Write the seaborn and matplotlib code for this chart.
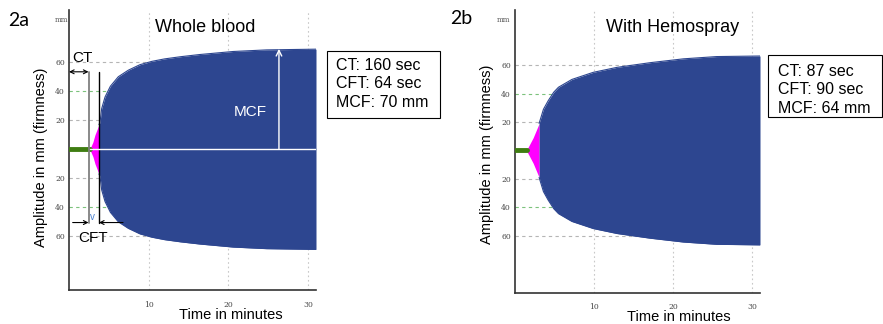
import matplotlib
matplotlib.use("Agg")
import matplotlib.pyplot as plt
import seaborn as sns
import numpy as np
import pandas as pd
from matplotlib.patches import Rectangle

# ---------------- data ----------------
# Panel 2a: whole blood - clot amplitude envelope (mm) over time (min)
time_a = [2.67, 3.0, 3.26, 3.76, 3.89, 4.1, 4.52, 5.2, 6.19, 7.44, 8.9, 10.4, 12.0, 14.0,
          16.4, 20.6, 24.8, 31.0]
amp_a = [0.8, 5.0, 10.0, 17.0, 18.5, 28.0, 36.0, 43.5, 50.0, 54.5, 58.3, 60.6, 62.3, 63.8,
         65.3, 67.4, 68.5, 69.0]
ct_a = 2.67          # clotting time, minutes
pink_end_a = 3.76    # end of the clot-formation (CFT) phase

# Panel 2b: with Hemospray
time_b = [1.52, 2.3, 3.05, 3.6, 4.2, 4.9, 5.5, 7.2, 9.9, 12.9, 17.1, 21.3, 25.5, 31.0]
amp_b = [0.8, 9.0, 19.0, 29.0, 35.0, 41.0, 44.5, 50.0, 55.0, 58.5, 61.8, 64.5, 66.1, 66.5]
ct_b = 1.52
pink_end_b = 3.05

x_ticks = [10, 20, 30]
x_ticklabels = ["10", "20", "30"]
y_ticks = [-60, -40, -20, 20, 40, 60]
y_ticklabels = ["60", "40", "20", "20", "40", "60"]
panel_titles = ["Whole blood", "With Hemospray"]
panel_tags = ["2a", "2b"]
box_a = ["CT: 160 sec", "CFT: 64 sec", "MCF: 70 mm"]
box_b = ["CT: 87 sec", "CFT: 90 sec", "MCF: 64 mm"]
x_label = "Time in minutes"
y_label = "Amplitude in mm (firmness)"

# ---------------- style ----------------
BLUE = "#2d4690"
PINK = "#ff00ff"
GREEN = "#3f7d12"

sns.set_theme(style="white")
plt.rcParams['font.family'] = ['Liberation Sans', 'DejaVu Sans']
plt.rcParams['text.color'] = 'black'

W, H = 883, 324
fig = plt.figure(figsize=(W / 100, H / 100), dpi=100)


def fx(x):
    return x / W


def fy(y):
    return 1 - y / H


def make_ax(left, top, right, bottom):
    return fig.add_axes([fx(left), fy(bottom), (right - left) / W, (bottom - top) / H])


def draw_panel(ax, t, a, ct, pink_end, ylim, xpad):
    t = np.asarray(t, dtype=float)
    a = np.asarray(a, dtype=float)
    ax.set_xlim(0, 31)
    ax.set_ylim(*ylim)
    # grid
    for yv in [-60, -20, 20, 60]:
        ax.axhline(yv, color="#b5b5b5", lw=0.8, ls=(0, (3, 3)), zorder=1)
    for yv in [-40, 40]:
        ax.axhline(yv, color="#7cc27c", lw=0.8, ls=(0, (3, 3)), zorder=1)
    for xv in x_ticks:
        ax.axvline(xv, color="#c8c8c8", lw=0.8, ls=(0, (1.5, 2.5)), zorder=1)
    pink = t <= pink_end
    blue = t >= pink_end
    ax.fill_between(t, -a, a, where=pink, color=PINK, lw=0, zorder=2)
    ax.fill_between(t, -a, a, where=blue, color=BLUE, lw=0, zorder=3)
    df = pd.DataFrame({"t": t[blue], "up": a[blue], "lo": -a[blue]})
    sns.lineplot(data=df, x="t", y="up", ax=ax, color=BLUE, lw=0.8, zorder=3)
    sns.lineplot(data=df, x="t", y="lo", ax=ax, color=BLUE, lw=0.8, zorder=3)
    # green baseline before clotting starts
    sns.lineplot(x=[0, ct], y=[0, 0], ax=ax, color=GREEN, lw=3.5, zorder=4)
    ax.set_xlabel("")
    ax.set_ylabel("")
    ax.set_xticks(x_ticks, x_ticklabels)
    ax.set_yticks(y_ticks, y_ticklabels)
    ax.tick_params(axis="both", length=0, labelsize=5.5, labelcolor="#444444",
                   labelfontfamily="DejaVu Serif")
    ax.tick_params(axis="x", pad=xpad)
    ax.tick_params(axis="y", pad=3)
    sns.despine(ax=ax)
    for s in ["left", "bottom"]:
        ax.spines[s].set_color("#333333")
        ax.spines[s].set_linewidth(1.2)
    ax.set_facecolor("white")


# ---------------- panel 2a ----------------
ax_a = make_ax(69, 10, 316, 290)
draw_panel(ax_a, time_a, amp_a, ct_a, pink_end_a, (-97, 96), 8)

# annotations
ax_a.plot([2.45, 2.45], [-50.5, 53.4], color="#808080", lw=1.3, zorder=5)
ax_a.plot([pink_end_a, pink_end_a], [-50.5, 53.4], color="black", lw=1.0, zorder=5)
ax_a.plot([ct_a, 31], [0, 0], color="white", lw=1.0, zorder=5)
ax_a.annotate("", xy=(0, 53.4), xytext=(2.45, 53.4),
              arrowprops=dict(arrowstyle="<->", lw=0.8, color="black",
                              shrinkA=0, shrinkB=0, mutation_scale=7), zorder=6)
ax_a.text(1.63, 63, "CT", fontsize=11, ha="center", va="center", color="black")
ax_a.annotate("", xy=(2.45, -50.5), xytext=(0.46, -50.5),
              arrowprops=dict(arrowstyle="->", lw=0.8, color="black",
                              shrinkA=0, shrinkB=0, mutation_scale=7), zorder=6)
ax_a.annotate("", xy=(pink_end_a, -50.5), xytext=(6.78, -50.5),
              arrowprops=dict(arrowstyle="->", lw=0.8, color="black",
                              shrinkA=0, shrinkB=0, mutation_scale=7), zorder=6)
ax_a.text(3.0, -61.5, "CFT", fontsize=11, ha="center", va="center", color="black")
ax_a.text(3.0, -46.5, "v", fontsize=7, ha="center", va="center", color="#4a80d0")
ax_a.annotate("", xy=(26.35, 69.2), xytext=(26.35, 0),
              arrowprops=dict(arrowstyle="->", lw=1.0, color="white",
                              shrinkA=0, shrinkB=0, mutation_scale=10), zorder=6)
ax_a.text(22.7, 26, "MCF", fontsize=11, ha="center", va="center", color="white")

# ---------------- panel 2b ----------------
ax_b = make_ax(515, 10, 760, 293)
draw_panel(ax_b, time_b, amp_b, ct_b, pink_end_b, (-100.4, 98.9), 7)

# ---------------- figure texts ----------------
fig.text(fx(18.5), fy(20), panel_tags[0], fontsize=14, family="Lato", ha="center", va="center")
fig.text(fx(461.5), fy(18), panel_tags[1], fontsize=14, family="Lato", ha="center", va="center")
fig.text(fx(205), fy(27), panel_titles[0], fontsize=13, ha="center", va="center")
fig.text(fx(672.5), fy(27.5), panel_titles[1], fontsize=13, ha="center", va="center")
fig.text(fx(61), fy(20), "mm", fontsize=5, ha="center", va="center", color="#555555",
         family="DejaVu Serif")
fig.text(fx(503), fy(20), "mm", fontsize=5, ha="center", va="center", color="#555555",
         family="DejaVu Serif")
fig.text(fx(231), fy(315), x_label, fontsize=10.5, ha="center", va="center")
fig.text(fx(678.5), fy(317), x_label, fontsize=10.5, ha="center", va="center")
fig.text(fx(41), fy(157.5), y_label, fontsize=10.5, ha="center", va="center", rotation=90)
fig.text(fx(487), fy(154), y_label, fontsize=10.5, ha="center", va="center", rotation=90)

# value boxes
for (l, t, r, b), lines, tx, ys in [
        ((327, 51, 440, 118), box_a, 336, (65, 83, 102)),
        ((768, 55, 882, 117), box_b, 778, (72, 90, 109))]:
    fig.patches.append(Rectangle((fx(l), fy(b)), (r - l) / W, (b - t) / H,
                                 transform=fig.transFigure, fill=False,
                                 edgecolor="black", lw=0.8))
    for line, yy in zip(lines, ys):
        fig.text(fx(tx), fy(yy), line, fontsize=11.5, ha="left", va="center")

fig.savefig("out.png", dpi=100)
